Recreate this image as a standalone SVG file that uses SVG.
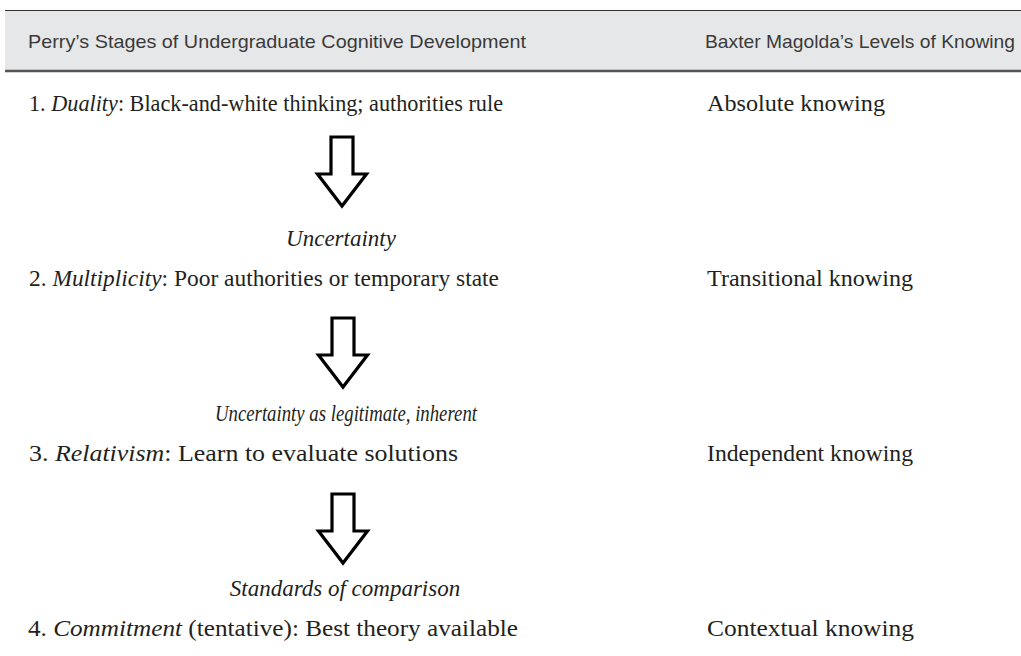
<svg xmlns="http://www.w3.org/2000/svg" width="1021" height="656" viewBox="0 0 1021 656">
<style>
  .hdr { font-family: "Liberation Sans", "DejaVu Sans", sans-serif; font-size: 19px; fill: #3a3a3a; }
  .body { font-family: "Liberation Serif", "DejaVu Serif", serif; font-size: 23px; fill: #231f20; }
  .lbl { font-family: "Liberation Serif", "DejaVu Serif", serif; font-size: 23px; font-style: italic; fill: #231f20; text-anchor: middle; }
  .it { font-style: italic; }
  .arrow { fill: #ffffff; stroke: #000000; stroke-width: 3.2; stroke-linejoin: miter; }
</style>
<defs>
  <polygon id="darrow" points="-11,0 11,0 11,37 24.5,37 0,69 -24.5,37 -11,37"/>
</defs>
<rect width="1021" height="656" fill="#ffffff"/>
<g id="header">
  <rect x="5" y="10" width="1016" height="61" fill="#e6e7e8"/>
  <line x1="5" y1="10.5" x2="1021" y2="10.5" stroke="#333333" stroke-width="1.2"/>
  <line x1="5" y1="71" x2="1021" y2="71" stroke="#555555" stroke-width="2.5"/>
  <text class="hdr" x="28" y="48" textLength="498" lengthAdjust="spacingAndGlyphs">Perry’s Stages of Undergraduate Cognitive Development</text>
  <text class="hdr" x="705" y="48" textLength="310" lengthAdjust="spacingAndGlyphs">Baxter Magolda’s Levels of Knowing</text>
</g>
<g id="stage1">
  <text class="body" x="29" y="111" textLength="474" lengthAdjust="spacingAndGlyphs">1. <tspan class="it">Duality</tspan>: Black-and-white thinking; authorities rule</text>
  <text class="body" x="707" y="111" textLength="178" lengthAdjust="spacingAndGlyphs">Absolute knowing</text>
</g>
<g id="stage2">
  <text class="body" x="29" y="286" textLength="470" lengthAdjust="spacingAndGlyphs">2. <tspan class="it">Multiplicity</tspan>: Poor authorities or temporary state</text>
  <text class="body" x="707" y="286" textLength="206" lengthAdjust="spacingAndGlyphs">Transitional knowing</text>
</g>
<g id="stage3">
  <text class="body" x="29" y="461" textLength="429" lengthAdjust="spacingAndGlyphs">3. <tspan class="it">Relativism</tspan>: Learn to evaluate solutions</text>
  <text class="body" x="707" y="461" textLength="206" lengthAdjust="spacingAndGlyphs">Independent knowing</text>
</g>
<g id="stage4">
  <text class="body" x="28" y="636" textLength="490" lengthAdjust="spacingAndGlyphs">4. <tspan class="it">Commitment</tspan> (tentative): Best theory available</text>
  <text class="body" x="707" y="636" textLength="207" lengthAdjust="spacingAndGlyphs">Contextual knowing</text>
</g>
<g id="connectors">
  <use href="#darrow" class="arrow" transform="translate(342,137)"/>
  <text class="lbl" x="341" y="246">Uncertainty</text>
  <use href="#darrow" class="arrow" transform="translate(343,318)"/>
  <text class="lbl" x="346" y="421" textLength="262" lengthAdjust="spacingAndGlyphs">Uncertainty as legitimate, inherent</text>
  <use href="#darrow" class="arrow" transform="translate(343,494)"/>
  <text class="lbl" x="345" y="596">Standards of comparison</text>
</g>
</svg>
